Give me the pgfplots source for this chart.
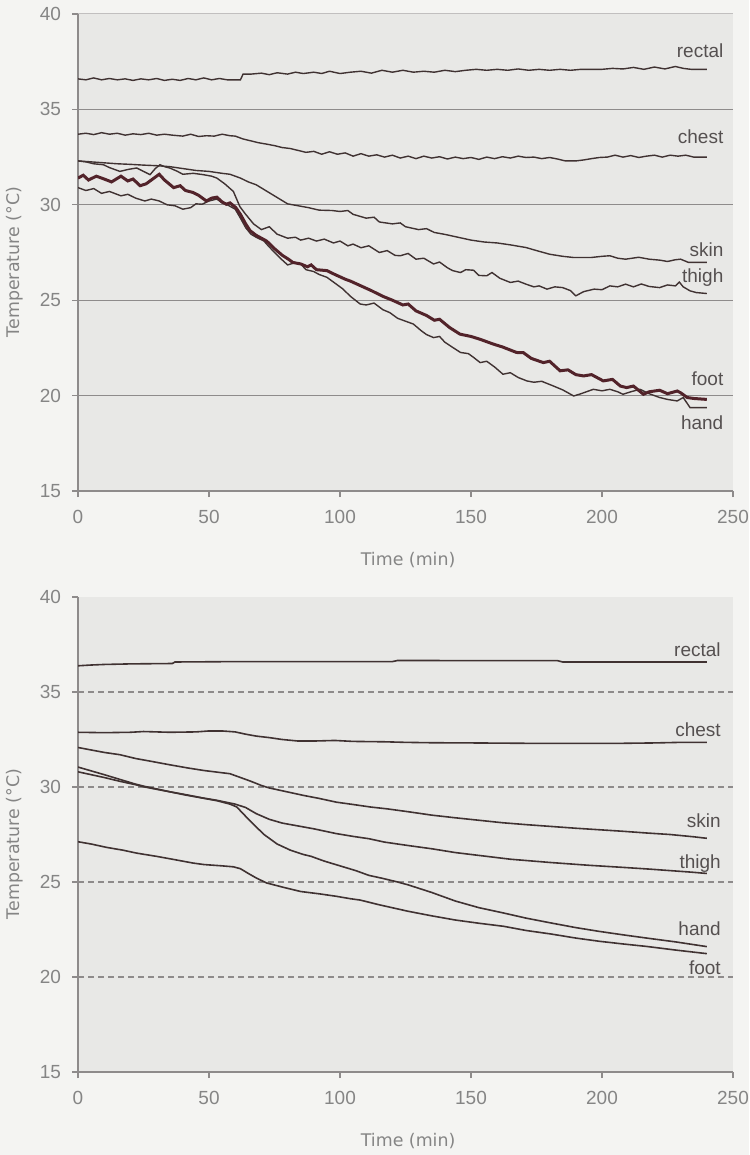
\documentclass[border=0pt]{standalone}
\usepackage{pgfplots}
\pgfplotsset{compat=1.18}
\usepackage{fontspec}
\setmainfont{Liberation Sans}
\newfontfamily\labfont{DejaVu Sans}

\definecolor{paper}{HTML}{F4F4F2}
\definecolor{plotbg}{HTML}{E8E8E6}
\definecolor{gridc}{HTML}{8E8B8B}
\definecolor{txt}{HTML}{858585}
\definecolor{serlab}{HTML}{555050}
\definecolor{serie}{HTML}{403232}
\definecolor{footc}{HTML}{52232A}

\pgfplotsset{
  panel/.style={
    scale only axis, width=327.5pt, height=238.5pt,
    xmin=0, xmax=250, ymin=15, ymax=40,
    xtick={0,50,...,250}, ytick={15,20,...,40},
    axis x line*=bottom, axis y line*=left,
    axis line style={gridc, line width=0.6pt},
    tick style={gridc, line width=0.6pt},
    tick align=outside, major tick length=3pt,
    axis background/.style={fill=plotbg},
    ticklabel style={font=\fontsize{9.5}{10}\selectfont, text=txt},
    xticklabel style={yshift=-3pt},
    yticklabel style={xshift=-2pt},
    /pgf/number format/assume math mode=true,
    xlabel={Time (min)}, ylabel={Temperature (°C)},
    label style={font=\labfont\fontsize{8.7}{10}\selectfont, text=txt},
    xlabel style={at={(axis description cs:0.504,0)}, anchor=center, yshift=-34.5pt},
    ylabel style={at={(axis description cs:-0.096,0.48)}, anchor=center},
    extra y ticks={20,25,30,35}, extra y tick labels={},
    extra y tick style={ymajorgrids=true, major tick length=0pt},
  },
}
\tikzset{lab/.style={anchor=east, font=\fontsize{9.5}{10}\selectfont, text=serlab}}

\begin{document}
\begin{tikzpicture}
\fill[paper] (0,0) rectangle (374.5pt,-577.5pt);

% ---------- top panel: measured ----------
\begin{axis}[panel, at={(39pt,-245.5pt)}, anchor=south west,
  grid style={gridc, line width=0.6pt}]
\draw[gridc!55, line width=0.5pt] (rel axis cs:0,1) -- (rel axis cs:1,1);
\addplot[serie, line width=0.7pt] coordinates {
(0,36.6) (3,36.55) (6,36.65) (9,36.55) (12,36.62) (15,36.55) (18,36.6) (21,36.52)
(24,36.6) (27,36.55) (30,36.62) (33,36.52) (36,36.58) (39,36.52) (42,36.62) (45,36.55)
(48,36.65) (51,36.55) (54,36.62) (57,36.55) (62,36.55) (63,36.85) (66,36.85) (70,36.9)
(73,36.82) (76,36.92) (80,36.85) (83,36.95) (86,36.88) (90,36.95) (93,36.88) (96,37.0)
(100,36.88) (104,36.95) (108,37.0) (112,36.9) (116,37.05) (120,36.95) (124,37.05) (128,36.95)
(132,37.0) (136,36.95) (140,37.05) (144,36.98) (148,37.05) (152,37.1) (156,37.05) (160,37.1)
(164,37.05) (168,37.12) (172,37.05) (176,37.1) (180,37.05) (184,37.1) (188,37.05) (192,37.1)
(200,37.1) (204,37.15) (208,37.12) (212,37.2) (216,37.1) (220,37.22) (224,37.12) (228,37.25)
(231,37.15) (234,37.1) (240,37.1)};
\addplot[serie, line width=0.7pt] coordinates {
(0,33.7) (3,33.75) (6,33.68) (9,33.78) (12,33.7) (15,33.75) (18,33.65) (21,33.72)
(24,33.68) (27,33.75) (30,33.65) (33,33.7) (36,33.65) (40,33.6) (43,33.7) (46,33.58)
(49,33.62) (52,33.6) (55,33.7) (58,33.62) (60,33.6) (63,33.45) (66,33.35) (69,33.25)
(72,33.18) (75,33.1) (78,33.0) (81,32.95) (84,32.85) (87,32.75) (90,32.8) (93,32.65)
(96,32.78) (99,32.65) (102,32.72) (105,32.55) (108,32.68) (111,32.55) (114,32.62) (117,32.5)
(120,32.6) (123,32.45) (126,32.55) (129,32.42) (132,32.55) (135,32.45) (138,32.52) (141,32.4)
(144,32.5) (147,32.42) (150,32.48) (153,32.38) (156,32.5) (159,32.42) (162,32.52) (165,32.45)
(168,32.55) (171,32.48) (174,32.5) (177,32.42) (180,32.48) (183,32.4) (186,32.3) (190,32.3)
(193,32.35) (196,32.42) (199,32.48) (202,32.5) (205,32.6) (208,32.5) (211,32.58) (214,32.48)
(217,32.55) (220,32.6) (223,32.5) (226,32.6) (229,32.55) (232,32.6) (235,32.5) (240,32.5)};
\addplot[serie, line width=0.7pt] coordinates {
(0,32.3) (5,32.25) (10,32.2) (15,32.15) (20,32.12) (25,32.08) (30,32.05) (35,32.0)
(40,31.9) (45,31.8) (50,31.75) (55,31.65) (58,31.6) (62,31.4) (65,31.2) (68,31.05)
(71,30.8) (74,30.55) (77,30.3) (80,30.05) (84,29.95) (88,29.85) (92,29.72) (97,29.7)
(100,29.65) (103,29.7) (105,29.5) (110,29.3) (113,29.35) (115,29.1) (120,29.0) (123,29.05)
(125,28.85) (130,28.7) (133,28.75) (136,28.55) (140,28.45) (145,28.3) (150,28.15) (155,28.05)
(160,28.0) (165,27.9) (171,27.76) (175,27.6) (180,27.41) (185,27.3) (189,27.24) (196,27.24)
(200,27.3) (203,27.33) (206,27.2) (209,27.15) (214,27.25) (218,27.15) (222,27.1) (225,27.03)
(228,27.12) (230,27.15) (233,26.98) (240,26.98)};
\addplot[serie, line width=0.7pt] coordinates {
(0,32.3) (3,32.25) (6,32.15) (9.7,32.1) (12,31.95) (16,31.75) (19,31.85) (22.4,31.93)
(25,31.75) (27.5,31.58) (29.5,31.9) (31.3,32.1) (33,32.0) (35,31.93) (38,31.75) (40,31.6)
(44,31.65) (47.8,31.58) (51,31.5) (53,31.4) (56,31.1) (59.3,30.7) (61.8,29.9) (64,29.5)
(67,29.0) (70,28.7) (73,28.85) (76,28.46) (80,28.25) (83,28.3) (85,28.15) (88,28.25)
(91,28.1) (94,28.2) (97.5,28.0) (100,28.1) (103,27.85) (105,27.94) (108,27.75) (111,27.85)
(115,27.5) (118,27.6) (121,27.35) (123,27.33) (126,27.45) (129,27.15) (132,27.2) (135.7,26.9)
(138,27.0) (141,26.7) (143,26.55) (146,26.45) (148,26.6) (151,26.57) (153,26.3) (156,26.28)
(158,26.45) (161,26.15) (165,25.93) (168,26.0) (171,25.84) (174,25.7) (176,25.75) (179,25.58)
(182,25.7) (185,25.66) (188,25.5) (190,25.23) (193,25.45) (197,25.58) (200,25.55) (203,25.75)
(206,25.7) (209,25.84) (212,25.7) (215,25.85) (218,25.72) (222,25.66) (225,25.8) (228,25.75)
(229.5,25.95) (231,25.7) (233.6,25.49) (236,25.4) (240,25.35)};
\addplot[serie, line width=0.7pt] coordinates {
(0,30.9) (3,30.75) (6,30.85) (9,30.6) (12,30.7) (16.4,30.47) (19,30.55) (22,30.35)
(25.5,30.2) (28,30.3) (31,30.2) (34,30.0) (37,29.95) (40,29.77) (43,29.85) (45,30.05)
(47.4,30.03) (50,30.2) (53,30.3) (55,30.1) (57,30.0) (60,29.77) (62,29.3) (64,28.8)
(66,28.46) (68,28.3) (71,28.1) (72,27.94) (75,27.5) (78,27.1) (80,26.85) (82.5,26.95)
(85,26.9) (87,26.6) (90,26.5) (92,26.35) (95,26.2) (98,25.9) (101,25.6) (104,25.2)
(107.7,24.8) (110,24.75) (113,24.85) (116.4,24.5) (119,24.35) (122,24.05) (125,23.9) (128,23.75)
(131,23.4) (133,23.2) (135.7,23.04) (138,23.1) (140,22.8) (143.3,22.5) (146,22.26) (149,22.2)
(151,22.0) (153.5,21.73) (156,21.8) (159,21.5) (162.2,21.12) (165,21.2) (168,20.95) (171.3,20.77)
(174,20.7) (177,20.75) (181.5,20.5) (185,20.3) (189.2,19.98) (192,20.1) (196.7,20.33) (200,20.25)
(203,20.33) (206,20.2) (208,20.07) (211,20.2) (214.5,20.33) (218,20.1) (222,19.9) (225,19.8)
(228.7,19.72) (231,19.9) (233.6,19.37) (240,19.37)};
\addplot[footc, line width=1.5pt] coordinates {
(0,31.4) (2,31.55) (4,31.3) (7,31.5) (10,31.35) (12.8,31.2) (16.4,31.5) (19,31.25)
(21,31.35) (23.7,31.0) (26,31.1) (28,31.3) (31,31.6) (33,31.3) (36.5,30.9) (39,31.0)
(41,30.75) (43.8,30.65) (46,30.5) (49,30.2) (51,30.35) (53,30.4) (55,30.15) (56.6,30.03)
(58,30.1) (60.2,29.86) (62,29.5) (64,29.0) (65.7,28.64) (68,28.4) (72,28.1) (75,27.7)
(78,27.35) (80.3,27.15) (82,26.98) (85,26.9) (87.6,26.75) (89,26.85) (91,26.6) (95,26.55)
(98,26.35) (102,26.1) (104,26.0) (108,25.75) (112,25.5) (116.4,25.2) (120,25.0) (124,24.75)
(126,24.8) (129,24.44) (133,24.2) (136,23.95) (138,24.0) (141.8,23.57) (145.8,23.22) (150,23.1)
(153.5,22.95) (158.5,22.7) (162,22.55) (167.4,22.26) (170,22.25) (173,21.95) (177.6,21.73) (180,21.8)
(184,21.3) (187,21.35) (190,21.1) (193,21.03) (196,21.1) (200.5,20.77) (204,20.85) (207,20.5)
(209.4,20.42) (212,20.5) (215.8,20.07) (218,20.2) (222,20.28) (225,20.1) (228.7,20.24) (230,20.15)
(232.5,19.9) (235,19.85) (240,19.8)};
\node[lab] at (axis cs:249,38.08) {rectal};
\node[lab] at (axis cs:249,33.57) {chest};
\node[lab] at (axis cs:249,27.67) {skin};
\node[lab] at (axis cs:249,26.19) {thigh};
\node[lab] at (axis cs:249,20.87) {foot};
\node[lab] at (axis cs:249,18.6) {hand};
\end{axis}

% ---------- bottom panel: model ----------
\begin{axis}[panel, at={(39pt,-536pt)}, anchor=south west, height=237.5pt,
  grid style={gridc, line width=0.6pt, dash pattern=on 3pt off 2pt}]
\addplot[serie, line width=0.8pt] coordinates {
(0,36.38) (5,36.42) (10,36.45) (20,36.48) (36,36.5) (37,36.58) (60,36.6) (120,36.6)
(122,36.66) (160,36.65) (183,36.65) (185,36.58) (240,36.58)};
\addplot[serie, line width=0.8pt] coordinates {
(0,32.88) (10,32.86) (20,32.88) (25,32.92) (30,32.9) (35,32.88) (45,32.9) (50,32.95)
(55,32.95) (60,32.9) (64,32.78) (68,32.68) (73,32.6) (78,32.5) (84,32.42) (90,32.42)
(98,32.45) (105,32.4) (117,32.38) (125,32.35) (135,32.33) (150,32.32) (171,32.3) (208,32.3)
(220,32.32) (230,32.35) (240,32.35)};
\addplot[serie, line width=0.8pt] coordinates {
(0,32.08) (5,31.95) (10,31.82) (16,31.7) (22,31.5) (28,31.35) (35,31.17) (42,31.0)
(48,30.87) (55,30.75) (58,30.7) (62,30.5) (66,30.3) (70,30.08) (73,29.95) (78,29.8)
(86,29.56) (92,29.4) (98.7,29.2) (105,29.08) (111.5,28.95) (118,28.85) (126,28.7) (135,28.52)
(144,28.38) (153,28.25) (162,28.12) (171,28.02) (180,27.93) (190,27.83) (199,27.75) (208,27.67)
(217,27.58) (226,27.5) (235,27.38) (240,27.3)};
\addplot[serie, line width=0.8pt] coordinates {
(0,31.05) (5,30.85) (10,30.65) (16,30.4) (22,30.15) (25.5,30.03) (30,29.9) (35,29.75)
(41,29.6) (47.4,29.43) (53,29.3) (60,29.1) (64,28.92) (68,28.6) (73,28.3) (78,28.1)
(84,27.95) (90,27.8) (98.5,27.55) (105,27.4) (111,27.28) (117,27.1) (126,26.92) (135,26.75)
(144,26.55) (153,26.4) (165,26.2) (180,26.03) (195,25.88) (208,25.77) (218,25.68) (226,25.6)
(234,25.52) (240,25.45)};
\addplot[serie, line width=0.8pt] coordinates {
(0,30.8) (5,30.65) (10,30.5) (16,30.3) (22,30.12) (25.5,30.0) (30,29.88) (35,29.75)
(41,29.58) (47.4,29.42) (53,29.28) (58,29.1) (60.6,28.95) (63,28.6) (66,28.17) (71,27.5)
(76,27.0) (81,26.68) (86,26.45) (89,26.35) (94,26.1) (100,25.85) (106,25.6) (111,25.35)
(116,25.2) (122,25.0) (126,24.85) (135,24.45) (144,24.0) (153,23.65) (162.4,23.37) (171,23.1)
(180.7,22.84) (190,22.6) (199,22.4) (208,22.22) (217,22.05) (228,21.85) (240,21.6)};
\addplot[serie, line width=0.8pt] coordinates {
(0,27.12) (5,27.0) (11,26.82) (17,26.68) (22.4,26.52) (30,26.35) (36,26.2) (43.8,26.0)
(48,25.92) (55,25.85) (59.3,25.8) (62,25.7) (65,25.45) (68.2,25.2) (72,24.95) (78.4,24.72)
(85,24.5) (92,24.38) (98.5,24.25) (104,24.12) (107.7,24.05) (115,23.8) (126,23.46) (135,23.22)
(144,23.0) (153,22.83) (162.4,22.67) (171,22.45) (180.7,22.26) (190,22.05) (199,21.88) (208,21.74)
(217,21.61) (228,21.42) (240,21.23)};
\node[lab] at (axis cs:248,37.25) {rectal};
\node[lab] at (axis cs:248,32.99) {chest};
\node[lab] at (axis cs:248,28.24) {skin};
\node[lab] at (axis cs:248,25.95) {thigh};
\node[lab] at (axis cs:248,22.53) {hand};
\node[lab] at (axis cs:248,20.47) {foot};
\end{axis}

\pgfresetboundingbox
\path[use as bounding box] (0,0) rectangle (374.5pt,-577.5pt);
\end{tikzpicture}
\end{document}
